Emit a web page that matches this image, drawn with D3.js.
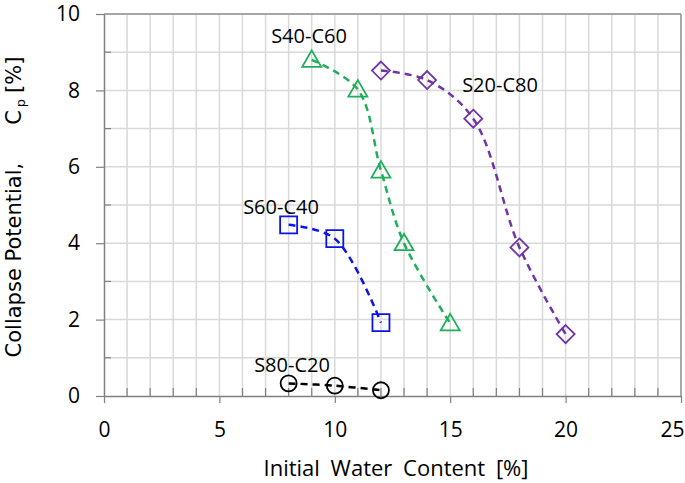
<!DOCTYPE html>
<html>
<head>
<meta charset="utf-8">
<script src="https://cdn.jsdelivr.net/npm/d3@7"></script>
<style>
  body { margin: 0; background: #fff; }
  svg { display: block; }
  .tick text { font-family: "Open Sans", sans-serif; font-size: 21px; fill: #000; }
  .lbl { font-family: "Open Sans", sans-serif; font-size: 20px; fill: #000; }
</style>
</head>
<body>
<svg id="chart" width="685" height="483"></svg>
<script>
// data
var xTicks = [0, 5, 10, 15, 20, 25];
var yTicks = [0, 2, 4, 6, 8, 10];

var s80x = [8, 10, 12];
var s80y = [0.33, 0.27, 0.15];

var s60x = [8, 10, 12];
var s60y = [4.48, 4.12, 1.92];

var s40x = [9, 11, 12, 13, 15];
var s40y = [8.8, 8.02, 5.9, 4.0, 1.9];

var s20x = [12, 14, 16, 18, 20];
var s20y = [8.52, 8.27, 7.26, 3.89, 1.62];

var series = [
    { name: 'S80-C20', xs: s80x, ys: s80y, color: '#000000', shape: 'circle',   lx: 292, ly: 372 },
    { name: 'S60-C40', xs: s60x, ys: s60y, color: '#0a14e6', shape: 'square',   lx: 281, ly: 214 },
    { name: 'S40-C60', xs: s40x, ys: s40y, color: '#1fae5a', shape: 'triangle', lx: 309, ly: 43 },
    { name: 'S20-C80', xs: s20x, ys: s20y, color: '#7034a4', shape: 'diamond',  lx: 500, ly: 92 }
];

var mLeft = 104, mTop = 14, mRight = 681, mBottom = 396;
var width = mRight - mLeft, height = mBottom - mTop;

var svg = d3.select('#chart');
var g = svg.append('g').attr('transform', `translate(${mLeft},${mTop})`);

var x = d3.scaleLinear().domain([0, 25]).range([0, width]);
var y = d3.scaleLinear().domain([0, 10]).range([height, 0]);

// Grid
g.append('g')
  .selectAll('line')
  .data(d3.range(1, 25))
  .join('line')
    .attr('x1', d => x(d)).attr('x2', d => x(d))
    .attr('y1', 0).attr('y2', height)
    .attr('stroke', '#d9d9d9').attr('stroke-width', 1.5);

g.append('g')
  .selectAll('line')
  .data(d3.range(1, 10))
  .join('line')
    .attr('x1', 0).attr('x2', width)
    .attr('y1', d => y(d)).attr('y2', d => y(d))
    .attr('stroke', '#d9d9d9').attr('stroke-width', 1.5);

// Minor inside ticks
g.append('g')
  .selectAll('line')
  .data(d3.range(1, 25).filter(d => d % 5 !== 0))
  .join('line')
    .attr('x1', d => x(d)).attr('x2', d => x(d))
    .attr('y1', height).attr('y2', height - 8)
    .attr('stroke', '#808080').attr('stroke-width', 1.2);

g.append('g')
  .selectAll('line')
  .data(d3.range(1, 10).filter(d => d % 2 !== 0))
  .join('line')
    .attr('x1', 0).attr('x2', 7)
    .attr('y1', d => y(d)).attr('y2', d => y(d))
    .attr('stroke', '#808080').attr('stroke-width', 1.2);

// Frame top / right
g.append('line')
  .attr('x1', 0).attr('x2', width).attr('y1', 0).attr('y2', 0)
  .attr('stroke', '#a6a6a6').attr('stroke-width', 2);
g.append('line')
  .attr('x1', width).attr('x2', width).attr('y1', 0).attr('y2', height)
  .attr('stroke', '#8c8c8c').attr('stroke-width', 1.5);

// Axes
var xAxis = g.append('g')
  .attr('transform', `translate(0,${height})`)
  .call(d3.axisBottom(x).tickValues(xTicks).tickSize(7).tickPadding(19).tickSizeOuter(0));

// last label sits inside the window like the original
xAxis.selectAll('.tick text')
  .filter(d => d === 25)
  .attr('text-anchor', 'end')
  .attr('x', 3);

var yAxis = g.append('g')
  .call(d3.axisLeft(y).tickValues(yTicks).tickSize(8).tickPadding(16).tickSizeOuter(0));

[xAxis, yAxis].forEach(function (a) {
    a.select('.domain').attr('stroke', '#808080').attr('stroke-width', 1.5);
    a.selectAll('.tick line').attr('stroke', '#808080').attr('stroke-width', 1.2);
});

// Axis titles
svg.append('text')
  .attr('x', 396).attr('y', 476)
  .attr('text-anchor', 'middle')
  .attr('font-family', '"Open Sans", sans-serif')
  .attr('font-size', 22)
  .attr('word-spacing', 5)
  .text('Initial Water Content [%]');

var yt = svg.append('text')
  .attr('transform', 'translate(21,207) rotate(-90)')
  .attr('text-anchor', 'middle')
  .attr('font-family', '"DejaVu Sans", sans-serif')
  .attr('font-size', 21);
yt.append('tspan').text('Collapse Potential,');
yt.append('tspan').attr('dx', 38).text('C');
yt.append('tspan').attr('dx', 3).attr('dy', 4).attr('font-size', 13).text('p');
yt.append('tspan').attr('dx', 6).attr('dy', -4).text('[%]');

// Markers
function marker(shape) {
    if (shape === 'circle') return 'M8,0A8,8 0 1,1 -8,0A8,8 0 1,1 8,0Z';
    if (shape === 'square') return 'M-8.5,-8.5H8.5V8.5H-8.5Z';
    if (shape === 'triangle') return 'M0,-9.5L9.5,7L-9.5,7Z';
    return 'M0,-9L9,0L0,9L-9,0Z';
}

var line = d3.line()
  .x(d => x(d[0]))
  .y(d => y(d[1]))
  .curve(d3.curveCatmullRom.alpha(0.5));

series.forEach(function (s) {
    var pts = s.xs.map((v, i) => [v, s.ys[i]]);

    g.append('path')
      .datum(pts)
      .attr('d', line)
      .attr('fill', 'none')
      .attr('stroke', s.color)
      .attr('stroke-width', 2.5)
      .attr('stroke-dasharray', '7,5');

    g.append('g')
      .selectAll('path')
      .data(pts)
      .join('path')
        .attr('transform', d => `translate(${x(d[0])},${y(d[1])})`)
        .attr('d', marker(s.shape))
        .attr('fill', 'none')
        .attr('stroke', s.color)
        .attr('stroke-width', 1.8);

    svg.append('text')
      .attr('class', 'lbl')
      .attr('x', s.lx).attr('y', s.ly)
      .attr('text-anchor', 'middle')
      .text(s.name);
});
</script>
</body>
</html>
